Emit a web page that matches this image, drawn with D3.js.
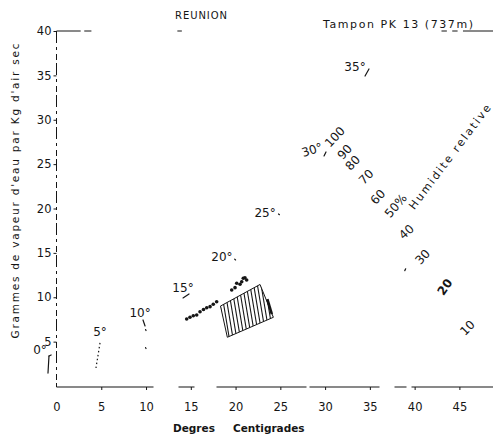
<!DOCTYPE html>
<html><head><meta charset="utf-8">
<script src="https://cdn.jsdelivr.net/npm/d3@7"></script>
<style>
html,body{margin:0;padding:0;background:#fff;}
svg{display:block;}
text{font-family:"DejaVu Sans",sans-serif;fill:#151515;}
</style></head><body>
<svg id="chart" width="493" height="437"></svg>
<script>
// ---- data (temperature °C, g vapour / kg dry air) ----
const xTicks = [0,5,10,15,20,25,30,35,40,45];
const yTicks = [5,10,15,20,25,30,35,40];

const satLabels = ["0°","5°","10°","15°","20°","25°","30°","35°"];
const satLabelT = [-1.84,4.86,9.33,14.13,18.48,23.29,28.54,33.34];
const satLabelW = [4.06,6.08,8.23,11.04,14.54,19.49,26.59,35.94];

const rhLabels = ["100","90","80","70","60","50%","40","30","20","10"];
const rhT = [31.1,32.2,33.1,34.6,35.9,37.9,39.1,40.9,43.4,45.9];
const rhW = [28.06,26.37,25.13,23.55,21.3,20.3,17.35,14.54,11.15,6.54];

const obsT = [14.54,14.91,15.28,15.66,16.03,16.42,16.78,17.15,17.51,17.89,
              19.57,19.94,20.13,20.5,20.69,20.86,21.24,21.05];
const obsW = [7.55,7.74,7.92,8.0,8.37,8.62,8.82,8.94,9.21,9.5,
              10.82,11.08,11.57,11.46,11.75,12.14,11.94,12.2];

const zoneT = [18.32,22.73,24.22,19.08];
const zoneW = [9.01,11.44,7.74,5.49];

// faint scan fragments of the curves [t1,w1,t2,w2]
const fragments = [
  [34.46,34.93,34.9,35.72],[30.1,26.37,29.88,25.92],[24.8,19.38,24.9,19.3],
  [19.9,14.3,20.0,14.2],[14.13,9.92,14.8,10.37],[9.66,7.44,9.89,6.76],
  [9.95,6.35,10.0,6.25],[9.95,4.32,10.0,4.22],[-0.84,3.38,-0.95,1.46],
  [-0.84,3.38,-0.6,3.5],[39.0,13.2,38.9,13.0]
];
const dotted5 = [4.86,4.85,4.41,2.03];
const topFrame = [[0,2.7],[3.1,3.9],[13.5,14.0],[43.0,43.6],[44.2,44.8],[45.4,48.8]];

// ---- drawing ----
const svg = d3.select("#chart");
const x = d3.scaleLinear().domain([0,45]).range([56.5,459.4]);
const y = d3.scaleLinear().domain([0,40]).range([386,31]);
const ink = "#151515";

// axes
const gx = svg.append("g").attr("transform",`translate(0,${y(0)+1})`)
  .call(d3.axisBottom(x).tickValues(xTicks).tickSize(3).tickPadding(13).tickFormat(d3.format("d")));
gx.select(".domain").remove();
gx.selectAll("line").attr("stroke",ink);
gx.selectAll("text").attr("font-size","11.5px").attr("fill",ink).style("font-family","DejaVu Sans");
gx.selectAll(".tick").filter(d=>d===0).select("line").remove();

const gy = svg.append("g").attr("transform",`translate(${x(0)},0)`)
  .call(d3.axisLeft(y).tickValues(yTicks).tickSize(3).tickPadding(2).tickFormat(d3.format("d")));
gy.select(".domain").remove();
gy.selectAll("line").attr("stroke",ink);
gy.selectAll("text").attr("font-size","11.5px").attr("fill",ink).style("font-family","DejaVu Sans");

// broken axis lines (like the scan)
svg.append("line").attr("x1",x(0)).attr("x2",493).attr("y1",y(0)+1).attr("y2",y(0)+1)
  .attr("stroke",ink).attr("stroke-width",1.1)
  .attr("stroke-dasharray","97,25,16,22,90,3,70,15,12,5,100");
svg.append("line").attr("x1",x(0)).attr("x2",x(0)).attr("y1",y(40)).attr("y2",y(0)+1)
  .attr("stroke",ink).attr("stroke-width",1)
  .attr("stroke-dasharray","12,4,3,4,6,3");
topFrame.forEach(s=>{
  svg.append("line").attr("x1",x(s[0])).attr("x2",x(s[1])).attr("y1",y(40)).attr("y2",y(40))
    .attr("stroke",ink).attr("stroke-width",1);
});

// axis titles
svg.append("text").attr("x",173).attr("y",432).attr("font-size","10.5px").attr("font-weight","bold").text("Degres");
svg.append("text").attr("x",233).attr("y",432).attr("font-size","10.5px").attr("font-weight","bold").text("Centigrades");
svg.append("text").attr("transform","translate(19,191) rotate(-90)").attr("text-anchor","middle")
  .attr("font-size","10.5px").attr("textLength",295).attr("lengthAdjust","spacing")
  .text("Grammes de vapeur d'eau par Kg d'air sec");

// titles
svg.append("text").attr("x",175).attr("y",19).attr("font-size","10px").attr("textLength",52).text("REUNION");
svg.append("text").attr("x",323).attr("y",28).attr("font-size","11px").attr("textLength",150)
  .attr("lengthAdjust","spacing").text("Tampon PK 13 (737m)");

// saturation temperature labels
satLabels.forEach((s,i)=>{
  const rot = s==="30°" ? -18 : 0;
  svg.append("text").attr("transform",`translate(${x(satLabelT[i])},${y(satLabelW[i])}) rotate(${rot})`)
    .attr("text-anchor","middle").attr("dominant-baseline","central")
    .attr("font-size","12px").text(s);
});

// RH labels
const rhRot = [-47,-48,-47,-45,-48,-50,-42,-48,-55,-45];
rhLabels.forEach((s,i)=>{
  svg.append("text").attr("transform",`translate(${x(rhT[i])},${y(rhW[i])}) rotate(${rhRot[i]})`)
    .attr("text-anchor","middle").attr("dominant-baseline","central")
    .attr("font-size","12px").attr("font-weight", s==="20" ? "bold":"normal").text(s);
});
svg.append("text").attr("transform",`translate(${x(43.95)},${y(25.8)}) rotate(-53)`)
  .attr("text-anchor","middle").attr("dominant-baseline","central")
  .attr("font-size","11px").attr("textLength",128).attr("lengthAdjust","spacing")
  .text("Humidite relative");

// fragments
fragments.forEach(f=>{
  svg.append("line").attr("x1",x(f[0])).attr("y1",y(f[1])).attr("x2",x(f[2])).attr("y2",y(f[3]))
    .attr("stroke",ink).attr("stroke-width",1.2).attr("stroke-linecap","round");
});
svg.append("line").attr("x1",x(dotted5[0])).attr("y1",y(dotted5[1])).attr("x2",x(dotted5[2])).attr("y2",y(dotted5[3]))
  .attr("stroke",ink).attr("stroke-width",1.2).attr("stroke-dasharray","1.5,2.5");

// hatched zone
const zonePts = zoneT.map((t,i)=>[x(t),y(zoneW[i])]);
svg.append("clipPath").attr("id","zclip").append("polygon").attr("points",zonePts.map(p=>p.join(",")).join(" "));
const xs = zonePts.map(p=>p[0]), ys = zonePts.map(p=>p[1]);
const x0 = d3.min(xs)-15, x1 = d3.max(xs)+2, yTop = d3.min(ys), yBot = d3.max(ys);
const hatch = svg.append("g").attr("clip-path","url(#zclip)");
for(let hx=x0; hx<=x1; hx+=3.7){
  hatch.append("line").attr("x1",hx).attr("y1",yTop).attr("x2",hx+(yBot-yTop)/6).attr("y2",yBot)
    .attr("stroke",ink).attr("stroke-width",1.1);
}
svg.append("polygon").attr("points",zonePts.map(p=>p.join(",")).join(" "))
  .attr("fill","none").attr("stroke",ink).attr("stroke-width",1);
svg.append("line").attr("x1",x(23.55)).attr("y1",y(9.8)).attr("x2",x(24.05)).attr("y2",y(8.1))
  .attr("stroke",ink).attr("stroke-width",2.6);

// observation dots
svg.append("g").selectAll("circle").data(obsT).join("circle")
  .attr("cx",(d)=>x(d)).attr("cy",(d,i)=>y(obsW[i])).attr("r",1.8).attr("fill",ink);
</script>
</body></html>
